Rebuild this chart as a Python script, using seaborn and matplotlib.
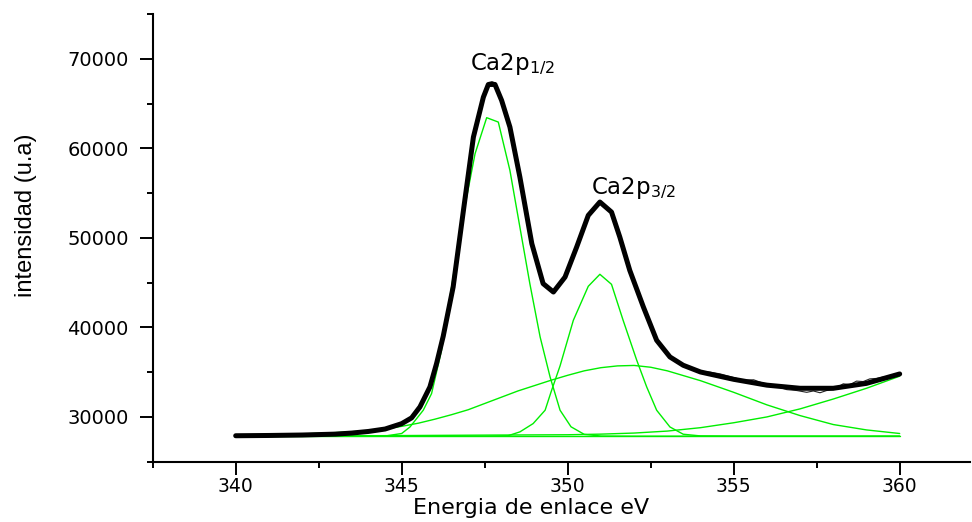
import matplotlib
matplotlib.use("Agg")
import matplotlib.pyplot as plt
import seaborn as sns
import pandas as pd

# ---------------- data ----------------
fit_x = [340.0, 341.0, 342.0, 343.0, 343.5, 344.0, 344.5, 345.0, 345.3, 345.55,
         345.85, 346.05, 346.25, 346.55, 346.86, 347.16, 347.46, 347.61, 347.81,
         348.01, 348.26, 348.56, 348.92, 349.26, 349.57, 349.92, 350.27, 350.62,
         350.97, 351.32, 351.57, 351.87, 352.28, 352.68, 353.08, 353.48, 354.0,
         355.0, 356.0, 357.0, 358.0, 359.0, 360.0]
fit_y = [27900, 27930, 27980, 28080, 28200, 28380, 28650, 29250, 29900, 31120,
         33350, 35960, 39000, 44510, 53070, 61250, 65710, 67130, 67130,
         65350, 62370, 56790, 49350, 44890, 43950, 45620, 48970, 52510,
         54000, 52880, 50090, 46370, 42280, 38560, 36700, 35770, 35020,
         34200, 33550, 33200, 33200, 33750, 34800]

raw_x = [340.0, 341.0, 342.0, 343.0, 344.0, 344.5, 345.0, 345.3, 345.55, 345.85,
         346.05, 346.25, 346.55, 346.86, 347.16, 347.46, 347.62, 347.72, 347.82,
         348.01, 348.26, 348.56, 348.92, 349.26, 349.57, 349.92, 350.27, 350.62,
         350.97, 351.32, 351.57, 351.87, 352.28, 352.68, 353.08, 353.2, 353.48,
         354.0, 354.3, 354.6, 354.9, 355.3, 355.6, 355.9, 356.2, 356.6, 356.9,
         357.2, 357.4, 357.6, 357.8, 358.0, 358.3, 358.5, 358.7, 358.9, 359.1,
         359.3, 359.5, 359.7, 360.0]
raw_y = [27900, 27930, 27980, 28080, 28380, 28650, 29250, 29900, 31120, 33350,
         35960, 39000, 44510, 53070, 61250, 65710, 67350, 67450, 67300,
         65350, 62370, 56790, 49350, 44890, 43950, 45620, 48970, 52510,
         54000, 52880, 50090, 46370, 42280, 38560, 36700, 36350, 35800,
         35100, 35000, 34800, 34500, 34100, 34150, 33750, 33500, 33050, 32950,
         32750, 32900, 32700, 32950, 33050, 33700, 33600, 34000, 33950, 34250,
         34300, 34450, 34500, 34750]

p1_x = [340.0, 343.5, 344.5, 345.0, 345.25, 345.65, 345.9, 346.2, 346.55, 346.86,
        347.21, 347.56, 347.91, 348.26, 348.56, 348.86, 349.17, 349.47, 349.77,
        350.1, 350.5, 351.0, 352.0, 360.0]
p1_y = [27850, 27850, 27870, 28150, 28880, 30750, 32610, 37440, 45630, 52700,
        59400, 63420, 62930, 57530, 51200, 44890, 38930, 34460, 30750,
        28900, 28050, 27870, 27850, 27850]

p2_x = [340.0, 347.5, 348.2, 348.56, 348.96, 349.32, 349.5, 349.77, 350.17, 350.62,
        350.97, 351.32, 351.67, 352.08, 352.38, 352.68, 353.08, 353.48, 354.0,
        355.0, 360.0]
p2_y = [27850, 27850, 27900, 28330, 29260, 30750, 32800, 35700, 40790, 44590,
        45930, 44810, 40790, 36330, 33350, 30750, 28880, 28070, 27880,
        27850, 27850]

broad_x = [340, 341, 342, 343, 344, 344.5, 345, 345.5, 346, 346.5, 347, 347.5, 348,
           348.5, 349, 349.5, 350, 350.5, 351, 351.5, 352, 352.5, 353, 353.5, 354,
           355, 356, 357, 358, 359, 360]
broad_y = [27900, 27980, 28100, 28250, 28450, 28650, 28950, 29300, 29750, 30250,
           30800, 31500, 32200, 32900, 33500, 34100, 34650, 35150, 35500, 35700,
           35750, 35550, 35150, 34600, 34050, 32750, 31350, 30150, 29150, 28550,
           28150]

bg_x = [340, 342, 344, 346, 348, 350, 351, 352, 353, 354, 355, 356, 357, 358, 359, 360]
bg_y = [27850, 27870, 27900, 27940, 27980, 28010, 28080, 28200, 28420, 28800,
        29350, 30000, 30900, 32000, 33200, 34550]

base_x = [340, 360]
base_y = [27850, 27850]

x_ticks = [340, 345, 350, 355, 360]
y_ticks = [30000, 40000, 50000, 60000, 70000]
label_p1 = "Ca2p$_{1/2}$"
label_p2 = "Ca2p$_{3/2}$"
x_title = "Energia de enlace eV"
y_title = "intensidad (u.a)"

# ---------------- style ----------------
sns.set_theme(style="ticks")
plt.rcParams["font.family"] = ["DejaVu Sans"]
plt.rcParams["mathtext.fontset"] = "dejavusans"

fig = plt.figure(figsize=(9.72, 5.22), dpi=100)
ax = fig.add_axes([0.1571, 0.1155, 0.8409, 0.8577])

GREEN = "#00ee00"

def draw(xs, ys, **kw):
    df = pd.DataFrame({"x": xs, "y": ys})
    sns.lineplot(data=df, x="x", y="y", ax=ax, sort=False, estimator=None,
                 legend=False, **kw)

draw(base_x, base_y, color=GREEN, lw=1.0)
draw(bg_x, bg_y, color=GREEN, lw=1.0)
draw(broad_x, broad_y, color=GREEN, lw=1.0)
draw(p2_x, p2_y, color=GREEN, lw=1.0)
draw(p1_x, p1_y, color=GREEN, lw=1.0)
draw(raw_x, raw_y, color="#222222", lw=0.8)
draw(fit_x, fit_y, color="black", lw=3.6)

ax.set_xlim(337.5, 362.12)
ax.set_ylim(25000, 75000)
ax.set_xticks(x_ticks)
ax.set_yticks(y_ticks)
ax.set_xticks([337.5 + 5 * i for i in range(5)], minor=True)
ax.set_yticks([25000 + 10000 * i for i in range(6)], minor=True)
ax.set_xticklabels([str(v) for v in x_ticks])
ax.set_yticklabels([str(v) for v in y_ticks])

sns.despine(ax=ax)
for s in ("left", "bottom"):
    ax.spines[s].set_linewidth(1.5)
    ax.spines[s].set_color("black")

ax.tick_params(which="major", direction="out", length=9.4, width=1.4,
               color="black", labelcolor="black")
ax.tick_params(which="minor", direction="out", length=4.5, width=1.4,
               color="black")
ax.tick_params(axis="x", which="major", pad=1.5, labelsize=13.5)
ax.tick_params(axis="y", which="major", pad=8, labelsize=14)

ax.set_xlabel(x_title, fontsize=16, color="black", va="top")
ax.xaxis.set_label_coords(0.4634, -0.082)
ax.set_ylabel(y_title, fontsize=17, color="black",
              family=["Liberation Sans", "DejaVu Sans"])
ax.yaxis.set_label_coords(-0.141, 0.551)

ax.text(347.06, 68700, label_p1, fontsize=16.5, color="black",
        ha="left", va="baseline")
ax.text(350.69, 54930, label_p2, fontsize=16.5, color="black",
        ha="left", va="baseline")

ax.grid(False)
fig.savefig("out.png", dpi=100)
